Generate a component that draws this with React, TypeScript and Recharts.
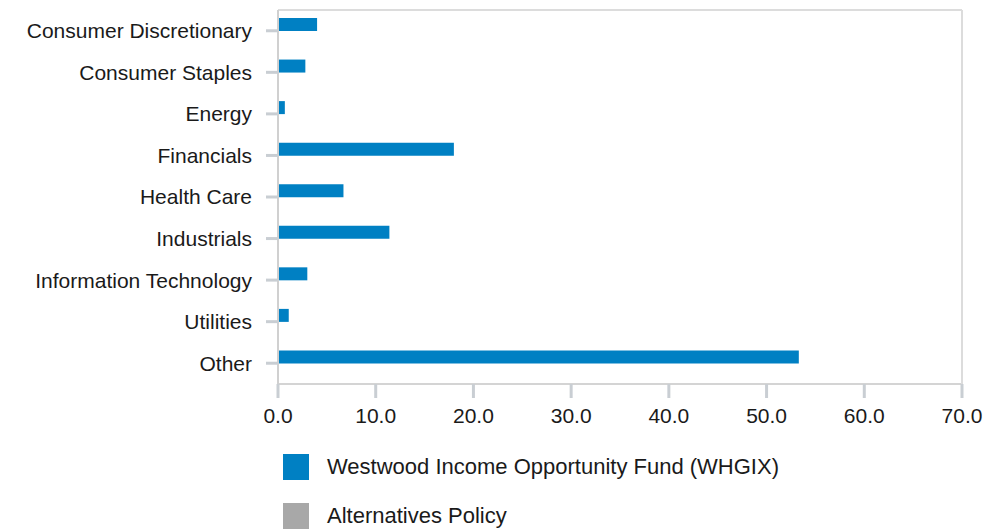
import { Bar, BarChart, Legend, XAxis, YAxis } from "recharts";

const sectors = [
  "Consumer Discretionary",
  "Consumer Staples",
  "Energy",
  "Financials",
  "Health Care",
  "Industrials",
  "Information Technology",
  "Utilities",
  "Other"
];

const fundValues = [4.0, 2.8, 0.7, 18.0, 6.7, 11.4, 3.0, 1.1, 53.3];
const policyValues = [0, 0, 0, 0, 0, 0, 0, 0, 0];

const xTicks = [0, 10, 20, 30, 40, 50, 60, 70];

const fundName = "Westwood Income Opportunity Fund (WHGIX)";
const policyName = "Alternatives Policy";

const blue = "#0080c3";
const gray = "#a8a8a8";
const tickGray = "#c9ced3";
const textColor = "#1a1a1a";
const font = "'Liberation Sans', Arial, sans-serif";

const data = sectors.map((name, i) => ({
  name,
  fund: fundValues[i],
  policy: policyValues[i]
}));

const legendItems = [
  { name: fundName, color: blue },
  { name: policyName, color: gray }
];

const tickStyle = { fill: textColor, fontSize: 21, fontFamily: font };

function LegendList() {
  return (
    <div style={{ fontFamily: font, fontSize: 22, color: textColor }}>
      {legendItems.map((item) => (
        <div
          key={item.name}
          style={{ display: "flex", alignItems: "center", height: 26, marginBottom: 23 }}
        >
          <span style={{ width: 26, height: 26, background: item.color, display: "inline-block" }} />
          <span style={{ marginLeft: 18 }}>{item.name}</span>
        </div>
      ))}
    </div>
  );
}

export default function App() {
  return (
    <div style={{ position: "absolute", left: 0, top: 0, background: "#fff" }}>
      <BarChart
        width={984}
        height={531}
        data={data}
        layout="vertical"
        margin={{ top: 9, right: 21, bottom: 117, left: 0 }}
        barSize={13}
        barGap={0}
      >
        <XAxis
          type="number"
          domain={[0, 70]}
          ticks={xTicks}
          tickFormatter={(v: number) => v.toFixed(1)}
          tick={tickStyle}
          tickSize={14}
          tickMargin={10}
          tickLine={{ stroke: tickGray, strokeWidth: 3 }}
          axisLine={{ stroke: "#d4d4d4", strokeWidth: 2 }}
          height={30}
          interval={0}
        />
        <XAxis
          xAxisId="top"
          orientation="top"
          type="number"
          domain={[0, 70]}
          tick={false}
          tickLine={false}
          axisLine={{ stroke: "#dcdcdc", strokeWidth: 2 }}
          height={1}
        />
        <YAxis
          type="category"
          dataKey="name"
          width={278}
          tick={tickStyle}
          tickSize={12}
          tickMargin={14}
          tickLine={{ stroke: tickGray, strokeWidth: 3 }}
          axisLine={{ stroke: "#d0d0d0", strokeWidth: 2 }}
          interval={0}
        />
        <YAxis
          yAxisId="right"
          orientation="right"
          type="category"
          dataKey="name"
          width={1}
          tick={false}
          tickLine={false}
          axisLine={{ stroke: "#dcdcdc", strokeWidth: 2 }}
        />
        <Legend
          layout="vertical"
          align="center"
          verticalAlign="middle"
          content={<LegendList />}
          wrapperStyle={{ left: 283, top: 454, width: 600, height: 80 }}
        />
        <Bar dataKey="fund" name={fundName} fill={blue} isAnimationActive={false} />
        <Bar dataKey="policy" name={policyName} fill={gray} isAnimationActive={false} />
      </BarChart>
    </div>
  );
}
